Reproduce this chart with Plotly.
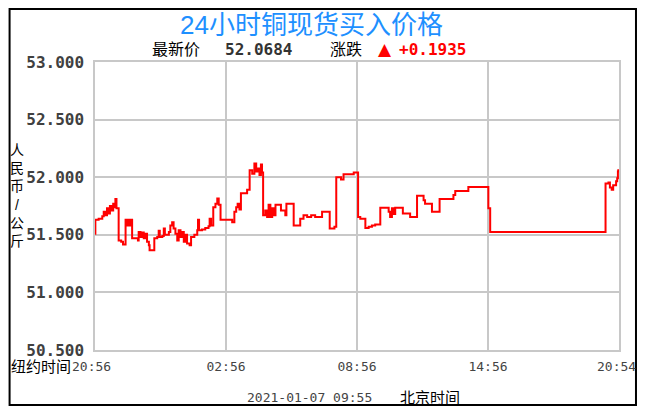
import plotly.graph_objects as go

# ---- data (New York time, 2021-01-05 20:56 -> 2021-01-06 20:54) ----
times = ["20:56","20:57","21:06","21:16","21:20","21:25","21:29","21:34","21:37","21:41",
         "21:46","21:50","21:52","21:55","22:01","22:08","22:13","22:20","22:24","22:27",
         "22:32","22:35","22:38","22:54","22:56","23:01","23:06","23:10","23:15","23:19",
         "23:24","23:26","23:39","23:47","23:51","23:54","00:01","00:05","00:08","00:19",
         "00:23","00:28","00:32","00:37","00:42","00:46","00:51","00:55","01:00","01:04",
         "01:09","01:16","01:20","01:29","01:37","01:39","01:42","01:50","01:59","02:08",
         "02:11","02:15","02:21","02:27","02:32","02:36","02:41","03:13","03:19","03:24",
         "03:28","03:33","03:37","03:54","04:01","04:08","04:14","04:19","04:24","04:28",
         "04:32","04:35","04:38","04:44","04:49","04:53","04:58","05:03","05:07","05:12",
         "05:27","05:39","05:42","06:02","06:20","06:29","06:39","06:50","07:01","07:20",
         "07:41","07:54","07:59","08:12","08:19","08:47","08:59","09:05","09:19","09:28",
         "09:37","09:46","10:00","10:23","10:27","10:32","10:36","10:41","11:02","11:22",
         "11:41","11:59","12:03","12:22","12:43","13:21","13:26","14:02","14:57","15:02",
         "20:19","20:27","20:31","20:36","20:40","20:48","20:51","20:53","20:54"]

prices = [51.51,51.63,51.64,51.66,51.70,51.67,51.73,51.685,51.75,51.71,
          51.77,51.74,51.81,51.73,51.45,51.44,51.415,51.63,51.58,51.63,
          51.58,51.63,51.47,51.45,51.525,51.48,51.52,51.47,51.51,51.44,
          51.41,51.365,51.47,51.48,51.535,51.48,51.49,51.555,51.50,51.525,
          51.58,51.61,51.555,51.51,51.45,51.54,51.48,51.525,51.44,51.50,
          51.425,51.41,51.48,51.50,51.54,51.63,51.54,51.545,51.56,51.575,
          51.64,51.58,51.74,51.77,51.815,51.76,51.63,51.61,51.70,51.74,
          51.77,51.72,51.86,51.89,52.06,52.03,52.12,52.05,52.075,52.02,
          52.11,52.04,51.67,51.71,51.655,51.76,51.655,51.73,51.67,51.76,
          51.71,51.67,51.77,51.58,51.64,51.67,51.655,51.67,51.655,51.70,
          51.555,51.57,52.00,51.98,52.025,52.04,51.655,51.64,51.56,51.57,
          51.58,51.59,51.735,51.70,51.655,51.73,51.68,51.735,51.685,51.655,
          51.84,51.80,51.77,51.70,51.81,51.845,51.88,51.915,51.73,51.525,
          51.945,51.955,51.91,51.89,51.93,51.965,51.99,52.05,52.07]

assert len(times) == len(prices)

start_day, next_day = "2021-01-05", "2021-01-06"
x_full = [(start_day if t >= "20:56" else next_day) + " " + t for t in times]

y_ticks = [50.5, 51.0, 51.5, 52.0, 52.5, 53.0]
x_tick_vals = ["2021-01-06 02:56", "2021-01-06 08:56", "2021-01-06 14:56"]
x_tick_text = ["02:56", "08:56", "14:56"]
x_range = ["2021-01-05 20:56", "2021-01-06 20:56"]

title_text = "24小时铜现货买入价格"
latest_label, latest_value = "最新价", "52.0684"
change_label, change_value = "涨跌", "+0.1935"
y_title_chars = ["人", "民", "币", "/", "公", "斤"]
ny_label, first_tick, last_tick = "纽约时间", "20:56", "20:54"
stamp, bj_label = "2021-01-07 09:55", "北京时间"

# ---- layout geometry (page pixels; the page body has an 8px margin) ----
OFF = 8
W, H = 648 - OFF, 416 - OFF
L, R, T, B = 94.5 - OFF, 619 - OFF, 62 - OFF, 350 - OFF

def px(x):
    return (x - OFF - L) / (R - L)

def py(y):
    return (B - (y - OFF)) / (B - T)

CJK = "Liberation Sans, Noto Sans CJK SC"
MONO = "DejaVu Sans Mono"

fig = go.Figure()
fig.add_trace(go.Scatter(x=x_full, y=prices, mode="lines", line_shape="hv",
                         line=dict(color="#FF0000", width=2), hoverinfo="x+y"))

ann = []
def add(x, y, text, size, color="#000000", family=CJK, anchor="left", weight="normal"):
    ann.append(dict(x=px(x), y=py(y), xref="paper", yref="paper", text=text,
                    showarrow=False, xanchor=anchor, yanchor="middle",
                    borderpad=0,
                    font=dict(family=family, size=size, color=color, weight=weight)))

add(311, 24.5, title_text, 26, "#1E90FF", anchor="center")
add(151, 49, latest_label, 16)
add(224, 49, latest_value, 16, "#333333", MONO, weight="bold")
add(329, 49, change_label, 16)
add(377, 49, "▲", 17, "#FF0000", "DejaVu Sans")
add(398, 49, change_value, 16, "#FF0000", MONO, weight="bold")
add(71, 366, ny_label, 15, anchor="right")
add(70, 366, first_tick, 13, "#444444", MONO)
add(616, 366, last_tick, 13, "#444444", MONO, anchor="center")
add(246, 397, stamp, 13, "#444444", MONO)
add(399, 397, bj_label, 15)
add(16.5, 195, "<br>".join(y_title_chars), 14, anchor="center")

fig.update_layout(
    width=W, height=H,
    margin=dict(l=L, r=W - R, t=T, b=H - B, pad=0),
    paper_bgcolor="#FFFFFF", plot_bgcolor="#FFFFFF",
    showlegend=False,
    annotations=ann,
    shapes=[dict(type="rect", xref="paper", yref="paper",
                 x0=px(9), x1=px(636), y0=py(405), y1=py(9),
                 line=dict(color="#000000", width=2), fillcolor="rgba(0,0,0,0)")],
    xaxis=dict(type="date", range=x_range, tickvals=x_tick_vals, ticktext=x_tick_text,
               showgrid=True, gridcolor="#C8C8C8", gridwidth=1.5,
               showline=True, mirror=True, linecolor="#C8C8C8", linewidth=1.5,
               ticks="", ticklabelstandoff=4, zeroline=False,
               tickfont=dict(family=MONO, size=13, color="#444444")),
    yaxis=dict(range=[50.5, 53.0], tickvals=y_ticks, tickformat=".3f",
               showgrid=True, gridcolor="#C8C8C8", gridwidth=1.5,
               showline=True, mirror=True, linecolor="#C8C8C8", linewidth=1.5,
               ticks="", ticklabelstandoff=6, zeroline=False,
               tickfont=dict(family=MONO, size=16, color="#404040", weight="bold")),
)

fig.write_html("out.html")
